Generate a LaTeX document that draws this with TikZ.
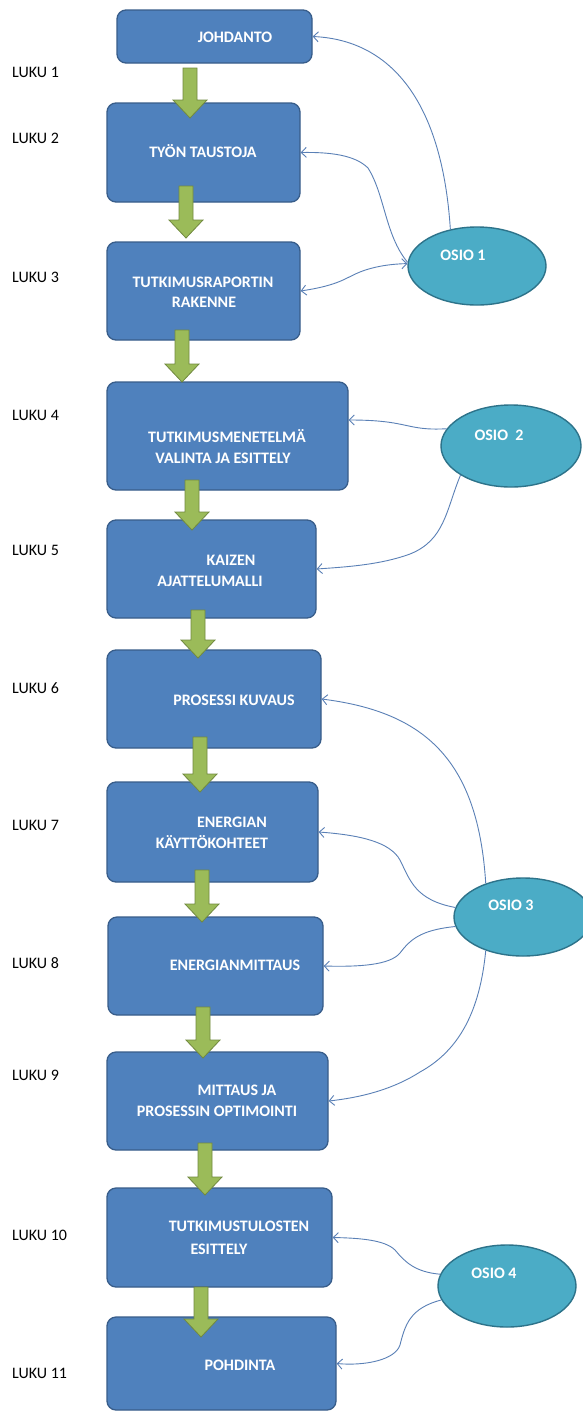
\documentclass[tikz,border=0pt]{standalone}
\usepackage{fontspec}
\setmainfont{Carlito}
\usetikzlibrary{shapes.geometric,arrows.meta}
\definecolor{boxblue}{RGB}{79,129,189}
\definecolor{boxedge}{RGB}{56,93,138}
\definecolor{osiofill}{RGB}{75,172,198}
\definecolor{osioedge}{RGB}{45,115,138}
\definecolor{gfill}{RGB}{155,187,89}
\definecolor{gedge}{RGB}{113,137,63}
\definecolor{conn}{RGB}{90,128,182}
\newcommand{\greenarrow}[3]{%
  \draw[garrow] ({#1-7},#2) -- ({#1+7},#2) -- ({#1+7},{#3-18}) -- ({#1+17},{#3-18}) -- (#1,#3) -- ({#1-17},{#3-18}) -- ({#1-7},{#3-18}) -- cycle;}
\begin{document}
\begin{tikzpicture}[x=1pt,y=-1pt,
  chapbox/.style={rectangle, rounded corners=9pt, fill=boxblue, draw=boxedge, line width=1.3pt, inner sep=0pt},
  osio/.style={ellipse, fill=osiofill, draw=osioedge, line width=1.4pt, inner sep=0pt},
  wtxt/.style={text=white, font=\fontsize{16}{19}\selectfont\bfseries, inner sep=0pt, text height=10.3pt, text depth=0pt},
  ltxt/.style={text=black, font=\fontsize{16}{19}\selectfont, inner sep=0pt, text height=10.3pt, text depth=0pt, anchor=west},
  garrow/.style={fill=gfill, draw=gedge, line width=0.8pt, line join=miter},
  link/.style={draw=conn, line width=0.9pt},
  tip/.style={-{Straight Barb[length=5pt,width=10pt]}}
]
\fill[white] (0,0) rectangle (582,1411);
\useasboundingbox (0,0) rectangle (582,1411);

% chapter boxes
\node[chapbox, minimum width=195, minimum height=53] (b1) at (214.5,36.5) {};
\node[chapbox, minimum width=193, minimum height=99] (b2) at (203.5,152.5) {};
\node[chapbox, minimum width=193, minimum height=98] (b3) at (203.5,291) {};
\node[chapbox, minimum width=241, minimum height=108] (b4) at (227.5,436) {};
\node[chapbox, minimum width=209, minimum height=98] (b5) at (211.5,569) {};
\node[chapbox, minimum width=214, minimum height=98] (b6) at (214,699) {};
\node[chapbox, minimum width=211, minimum height=100] (b7) at (212.5,832) {};
\node[chapbox, minimum width=215, minimum height=98] (b8) at (215.5,966) {};
\node[chapbox, minimum width=221, minimum height=98] (b9) at (217.5,1101) {};
\node[chapbox, minimum width=225, minimum height=99] (b10) at (219.5,1237.5) {};
\node[chapbox, minimum width=229, minimum height=93] (b11) at (221.5,1363.5) {};

% section ellipses
\node[osio, minimum width=138, minimum height=78] (o1) at (477,266) {};
\node[osio, minimum width=140, minimum height=82] (o2) at (511,446) {};
\node[osio, minimum width=138, minimum height=78] (o3) at (523,917) {};
\node[osio, minimum width=138, minimum height=82] (o4) at (507,1286) {};

% connectors
\draw[link, tip] (o1.126) .. controls (442,100) and (390,40) .. (b1.east);
\draw[link, tip] (o1.177) .. controls (385,235) and (385,195) .. (368,168) .. controls (355,155) and (330,152) .. (b2.east);
\draw[link, {Straight Barb[length=5pt,width=10pt]}-{Straight Barb[length=5pt,width=10pt]}] (b3.east) .. controls (340,285) and (345,278) .. (360,272) .. controls (375,266) and (392,264) .. (o1.178);
\draw[link, tip] (o2.165) .. controls (405,431) and (410,420) .. ([yshift=16pt]b4.east);
\draw[link, tip] (o2.210) .. controls (446,510) and (445,540) .. (410,554) .. controls (380,565) and (345,567) .. (b5.east);
\draw[link, tip] (o3.138) .. controls (478,760) and (425,712) .. (b6.east);
\draw[link, tip] (o3.172) .. controls (415,900) and (410,880) .. (400,860) .. controls (390,842) and (360,835) .. (b7.east);
\draw[link, tip] (o3.188) .. controls (420,930) and (410,940) .. (400,953) .. controls (390,965) and (360,967) .. (b8.east);
\draw[link, tip] (o3.222) .. controls (480,1010) and (460,1050) .. (420,1072) .. controls (395,1088) and (365,1097) .. (b9.east);
\draw[link, tip] (o4.170) .. controls (415,1272) and (405,1262) .. (395,1250) .. controls (385,1240) and (360,1238) .. (b10.east);
\draw[link, tip] (o4.192) .. controls (410,1308) and (405,1325) .. (400,1345) .. controls (395,1360) and (365,1366) .. (b11.east);

% green flow arrows
\greenarrow{190}{68}{118}
\greenarrow{186}{186}{238}
\greenarrow{182}{330}{382}
\greenarrow{192}{480}{530}
\greenarrow{198}{610}{658}
\greenarrow{200}{737}{792}
\greenarrow{202}{870}{922}
\greenarrow{203}{1007}{1058}
\greenarrow{205}{1143}{1195}
\greenarrow{201}{1287}{1337}

% box texts
\node[wtxt] (t1) at (235,37) {JOHDANTO};
\node[wtxt] (t2) at (203,152) {TYÖN TAUSTOJA};
\node[wtxt] (t3a) at (203,282) {TUTKIMUSRAPORTIN};
\node[wtxt] (t3b) at (204,302) {RAKENNE};
\node[wtxt] (t4a) at (227,437) {TUTKIMUSMENETELMÄ};
\node[wtxt] (t4b) at (223,458) {VALINTA JA ESITTELY};
\node[wtxt] (t5a) at (231,560) {KAIZEN};
\node[wtxt] (t5b) at (210,581) {AJATTELUMALLI};
\node[wtxt] (t6) at (234,700) {PROSESSI KUVAUS};
\node[wtxt] (t7a) at (232,822) {ENERGIAN};
\node[wtxt] (t7b) at (212,843) {KÄYTTÖKOHTEET};
\node[wtxt] (t8) at (235,965) {ENERGIANMITTAUS};
\node[wtxt] (t9a) at (237,1090) {MITTAUS JA};
\node[wtxt] (t9b) at (217,1111) {PROSESSIN OPTIMOINTI};
\node[wtxt] (t10a) at (239,1226) {TUTKIMUSTULOSTEN};
\node[wtxt] (t10b) at (219,1249) {ESITTELY};
\node[wtxt] (t11) at (240,1365) {POHDINTA};

% ellipse texts
\node[wtxt] (s1) at (463,255) {OSIO 1};
\node[wtxt] (s2) at (499,435) {OSIO~~2};
\node[wtxt] (s3) at (511,905) {OSIO 3};
\node[wtxt] (s4) at (494,1273) {OSIO 4};

% chapter labels
\node[ltxt] (l1) at (12,72) {LUKU 1};
\node[ltxt] (l2) at (12,138) {LUKU 2};
\node[ltxt] (l3) at (12,277) {LUKU 3};
\node[ltxt] (l4) at (12,415) {LUKU 4};
\node[ltxt] (l5) at (12,550) {LUKU 5};
\node[ltxt] (l6) at (12,688) {LUKU 6};
\node[ltxt] (l7) at (12,825) {LUKU 7};
\node[ltxt] (l8) at (12,963) {LUKU 8};
\node[ltxt] (l9) at (12,1075) {LUKU 9};
\node[ltxt] (l10) at (12,1235) {LUKU 10};
\node[ltxt] (l11) at (12,1373) {LUKU 11};
\end{tikzpicture}
\end{document}
